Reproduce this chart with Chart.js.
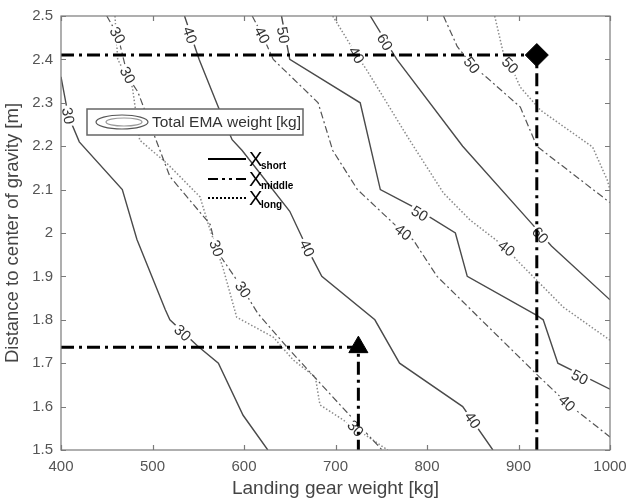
<!DOCTYPE html>
<html lang="en">
<head>
  <meta charset="UTF-8">
  <title>Total EMA weight contours</title>
  <script src="https://cdn.jsdelivr.net/npm/chart.js"></script>
  <style>
    body { margin: 0; background: #fff; }
    #wrap { width: 628px; height: 502px; }
  </style>
</head>
<body>
  <div id="wrap"><canvas id="contourChart"></canvas></div>

  <script>
    // contour lines: [landing gear weight kg, distance m]
    const short30 = [[400,2.36],[408,2.27],[420,2.21],[467,2.10],[483,1.985],[514,1.823],[519,1.80],[549,1.74],[572,1.70],[599,1.58],[626,1.50]];
    const short40 = [[535,2.50],[551,2.40],[572,2.29],[587,2.215],[598,2.19],[650,2.05],[669,1.965],[685,1.90],[743,1.80],[770,1.70],[839,1.60],[872,1.50]];
    const short50 = [[641,2.50],[650,2.40],[727,2.30],[749,2.10],[785,2.06],[831,2.00],[844,1.90],[920,1.81],[927,1.80],[943,1.70],[1000,1.64]];
    const short60 = [[738,2.50],[767,2.40],[839,2.20],[913,2.025],[936,1.97],[1000,1.846]];

    const middle30 = [[450,2.50],[462,2.456],[473,2.36],[484,2.325],[519,2.13],[563,2.02],[570,1.96],[599,1.87],[615,1.815],[647,1.737],[705,1.604],[751,1.50]];
    const middle40 = [[609,2.50],[620,2.456],[632,2.40],[681,2.30],[697,2.19],[724,2.10],[771,2.007],[785,1.984],[811,1.90],[923,1.668],[953,1.608],[1000,1.53]];
    const middle50 = [[818,2.50],[833,2.43],[849,2.387],[866,2.357],[902,2.29],[920,2.20],[1000,2.07]];

    const long30 = [[459,2.50],[462,2.40],[478,2.336],[483,2.26],[486,2.214],[516,2.16],[552,2.083],[561,2.02],[577,1.92],[592,1.806],[632,1.76],[654,1.707],[678,1.668],[683,1.604],[705,1.574],[757,1.50]];
    const long40 = [[697,2.50],[723,2.41],[734,2.376],[781,2.214],[818,2.092],[847,2.03],[887,1.965],[898,1.938],[949,1.829],[1000,1.753]];
    const long50 = [[874,2.50],[885,2.40],[891,2.387],[902,2.336],[924,2.283],[981,2.198],[997,2.122],[1000,2.10]];

    // the two design points and their guide lines
    const designPoints = [[920,2.41],[725,1.737]];
    const guideLong = [[400,2.41],[920,2.41],[920,1.50]];
    const guideShort = [[400,1.737],[725,1.737],[725,1.50]];

    const contourLabels = [
      { line: short30, text: '30', x: 408, y: 2.27 },
      { line: short30, text: '30', x: 533, y: 1.77 },
      { line: short40, text: '40', x: 541, y: 2.456 },
      { line: short40, text: '40', x: 669, y: 1.965 },
      { line: short40, text: '40', x: 850, y: 1.569 },
      { line: short50, text: '50', x: 643, y: 2.456 },
      { line: short50, text: '50', x: 792, y: 2.045 },
      { line: short50, text: '50', x: 967, y: 1.668 },
      { line: short60, text: '60', x: 754, y: 2.44 },
      { line: short60, text: '60', x: 924, y: 1.995 },
      { line: middle30, text: '30', x: 462, y: 2.456 },
      { line: middle30, text: '30', x: 599, y: 1.87 },
      { line: middle30, text: '30', x: 722, y: 1.55 },
      { line: long30, text: '30', x: 473, y: 2.364 },
      { line: long30, text: '30', x: 570, y: 1.965 },
      { line: middle40, text: '40', x: 620, y: 2.456 },
      { line: middle40, text: '40', x: 774, y: 2.002 },
      { line: middle40, text: '40', x: 953, y: 1.608 },
      { line: long40, text: '40', x: 723, y: 2.41 },
      { line: long40, text: '40', x: 887, y: 1.965 },
      { line: middle50, text: '50', x: 849, y: 2.387 },
      { line: long50, text: '50', x: 891, y: 2.387 }
    ];

    const xTickValues = [400, 500, 600, 700, 800, 900, 1000];
    const yTickValues = [1.5, 1.6, 1.7, 1.8, 1.9, 2.0, 2.1, 2.2, 2.3, 2.4, 2.5];

    const FONT = "Arial, 'Liberation Sans', sans-serif";
    Chart.defaults.font.family = FONT;

    const toXY = arr => arr.map(p => ({ x: p[0], y: p[1] }));

    const solidStyle = { borderColor: '#4a4a4a', borderWidth: 1.4, borderDash: [] };
    const dashDotStyle = { borderColor: '#555', borderWidth: 1.2, borderDash: [7, 3, 2, 3] };
    const dottedStyle = { borderColor: '#8a8a8a', borderWidth: 1.5, borderDash: [1.5, 2] };

    function contour(data, style) {
      return Object.assign({
        data: toXY(data), showLine: true, pointRadius: 0, fill: false, tension: 0
      }, style);
    }

    const guideStyle = { borderColor: '#000', borderWidth: 3, borderDash: [13, 5, 3, 5] };

    const datasets = [
      { data: toXY(designPoints.slice(0, 1)), pointStyle: 'rectRot', pointRadius: 11.5,
        backgroundColor: '#000', borderColor: '#000', showLine: false },
      { data: toXY(designPoints.slice(1)), pointStyle: 'triangle', pointRadius: 11,
        backgroundColor: '#000', borderColor: '#000', showLine: false },
      contour(guideLong, guideStyle),
      contour(guideShort, guideStyle),
      contour(short30, solidStyle),
      contour(short40, solidStyle),
      contour(short50, solidStyle),
      contour(short60, solidStyle),
      contour(middle30, dashDotStyle),
      contour(middle40, dashDotStyle),
      contour(middle50, dashDotStyle),
      contour(long30, dottedStyle),
      contour(long40, dottedStyle),
      contour(long50, dottedStyle)
    ];
    const LAST_CONTOUR = 4; // drawn last of the contours (datasets draw from high index to low)

    function labelAngle(pts, px, py, xs, ys) {
      let best = 0, bestD = Infinity;
      for (let i = 0; i < pts.length - 1; i++) {
        const ax = xs.getPixelForValue(pts[i][0]), ay = ys.getPixelForValue(pts[i][1]);
        const bx = xs.getPixelForValue(pts[i + 1][0]), by = ys.getPixelForValue(pts[i + 1][1]);
        const dx = bx - ax, dy = by - ay;
        let t = ((px - ax) * dx + (py - ay) * dy) / (dx * dx + dy * dy);
        t = Math.max(0, Math.min(1, t));
        const d = Math.hypot(ax + t * dx - px, ay + t * dy - py);
        if (d < bestD) { bestD = d; best = Math.atan2(dy, dx); }
      }
      if (best > Math.PI / 2) best -= Math.PI;
      if (best < -Math.PI / 2) best += Math.PI;
      return best;
    }

    const contourLabelPlugin = {
      id: 'contourLabels',
      afterDatasetDraw(chart, args) {
        if (args.index !== LAST_CONTOUR) return;
        const { ctx, scales: { x: xs, y: ys } } = chart;
        ctx.save();
        ctx.font = '15px ' + FONT;
        ctx.textAlign = 'center';
        ctx.textBaseline = 'middle';
        contourLabels.forEach(l => {
          const px = xs.getPixelForValue(l.x), py = ys.getPixelForValue(l.y);
          const a = labelAngle(l.line, px, py, xs, ys);
          const w = ctx.measureText(l.text).width;
          ctx.save();
          ctx.translate(px, py);
          ctx.rotate(a);
          ctx.fillStyle = '#fff';
          ctx.fillRect(-w / 2 - 2, -6, w + 4, 12);
          ctx.fillStyle = '#333';
          ctx.fillText(l.text, 0, 1);
          ctx.restore();
        });
        ctx.restore();
      }
    };

    const framePlugin = {
      id: 'frame',
      afterDatasetsDraw(chart) {
        const { ctx, chartArea: a, scales: { x: xs, y: ys } } = chart;
        ctx.save();
        ctx.strokeStyle = '#7a7a7a';
        ctx.lineWidth = 1.2;
        ctx.strokeRect(a.left, a.top, a.right - a.left, a.bottom - a.top);
        ctx.beginPath();
        xTickValues.forEach(v => {
          const px = Math.round(xs.getPixelForValue(v)) + 0.5;
          ctx.moveTo(px, a.bottom); ctx.lineTo(px, a.bottom - 5);
          ctx.moveTo(px, a.top); ctx.lineTo(px, a.top + 5);
        });
        yTickValues.forEach(v => {
          const py = Math.round(ys.getPixelForValue(v)) + 0.5;
          ctx.moveTo(a.left, py); ctx.lineTo(a.left + 5, py);
          ctx.moveTo(a.right, py); ctx.lineTo(a.right - 5, py);
        });
        ctx.stroke();
        ctx.restore();
      },
      afterDraw(chart) {
        // legend: boxed contour key, then the three line styles
        const { ctx, chartArea: a } = chart;
        const lx = a.left + 26, ly = a.top + 93;
        ctx.save();
        ctx.fillStyle = '#fff';
        ctx.fillRect(lx, ly, 216, 26);
        ctx.strokeStyle = '#666';
        ctx.lineWidth = 1.5;
        ctx.strokeRect(lx, ly, 216, 26);
        ctx.lineWidth = 1.2;
        ctx.strokeStyle = '#555';
        ctx.beginPath(); ctx.ellipse(lx + 35, ly + 13, 26, 7, 0, 0, Math.PI * 2); ctx.stroke();
        ctx.strokeStyle = '#999';
        ctx.beginPath(); ctx.ellipse(lx + 37, ly + 13, 18, 4, 0, 0, Math.PI * 2); ctx.stroke();
        ctx.fillStyle = '#333';
        ctx.font = '15.5px ' + FONT;
        ctx.textBaseline = 'middle';
        ctx.fillText('Total EMA weight [kg]', lx + 65, ly + 14);

        const keys = [
          { sub: 'short', dash: [], dy: 0 },
          { sub: 'middle', dash: [10, 4, 3, 4, 3, 4], dy: 20 },
          { sub: 'long', dash: [2, 2], dy: 39 }
        ];
        keys.forEach(k => {
          const y = a.top + 143 + k.dy;
          ctx.strokeStyle = '#000';
          ctx.lineWidth = 2;
          ctx.setLineDash(k.dash);
          ctx.beginPath(); ctx.moveTo(a.left + 147, y); ctx.lineTo(a.left + 185, y); ctx.stroke();
          ctx.setLineDash([]);
          ctx.fillStyle = '#000';
          ctx.textBaseline = 'alphabetic';
          ctx.font = '20px ' + FONT;
          ctx.fillText('X', a.left + 188, y + 7);
          ctx.font = 'bold 10px ' + FONT;
          ctx.fillText(k.sub, a.left + 200, y + 10);
        });
        ctx.restore();
      }
    };

    new Chart(document.getElementById('contourChart'), {
      type: 'scatter',
      data: { datasets: datasets },
      plugins: [contourLabelPlugin, framePlugin],
      options: {
        responsive: true,
        maintainAspectRatio: false,
        animation: false,
        layout: { padding: { top: 16, right: 18, left: 0, bottom: 0 } },
        plugins: { legend: { display: false }, tooltip: { enabled: false } },
        scales: {
          x: {
            type: 'linear', min: 400, max: 1000,
            afterBuildTicks: s => { s.ticks = xTickValues.map(v => ({ value: v })); },
            afterFit: s => { s.height = 52; s.paddingLeft = 0; s.paddingRight = 0; },
            grid: { display: false, drawTicks: false },
            border: { display: false },
            ticks: { color: '#555', font: { size: 15 }, padding: 8, maxRotation: 0, autoSkip: false,
                     callback: v => String(v) },
            title: { display: true, text: 'Landing gear weight [kg]', color: '#444', font: { size: 19 }, padding: { top: 0, bottom: 2 } }
          },
          y: {
            type: 'linear', min: 1.5, max: 2.5,
            afterBuildTicks: s => { s.ticks = yTickValues.map(v => ({ value: v })); },
            afterFit: s => { s.width = 61; s.paddingTop = 0; s.paddingBottom = 0; },
            grid: { display: false, drawTicks: false },
            border: { display: false },
            ticks: { color: '#555', font: { size: 15 }, padding: 8, autoSkip: false,
                     callback: v => String(+Number(v).toFixed(1)) },
            title: { display: true, text: 'Distance to center of gravity [m]', color: '#444', font: { size: 18.5 }, padding: { top: 2, bottom: 0 } }
          }
        }
      }
    });
  </script>
</body>
</html>
